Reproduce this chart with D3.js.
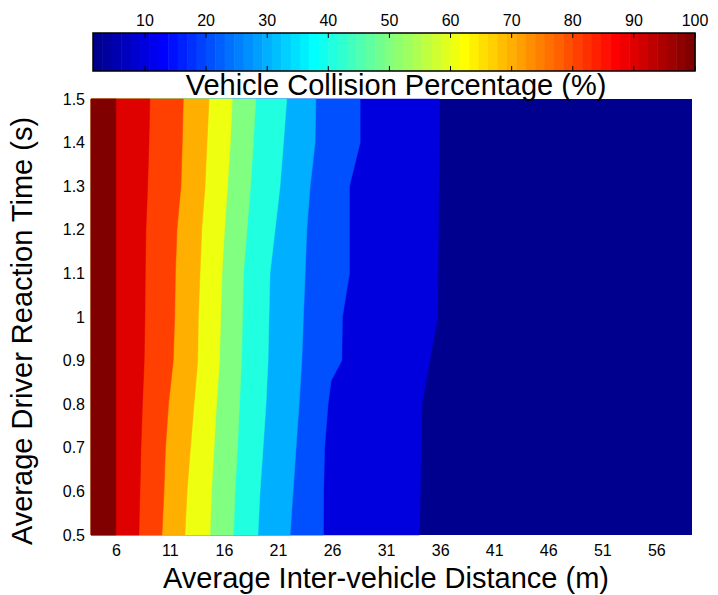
<!DOCTYPE html>
<head>
<meta charset="utf-8">
<style>
body { margin: 0; background: #fff; }
text { font-family: "Liberation Sans", Arial, sans-serif; fill: #000; }
</style>
</head>
<body>
<svg width="718" height="595"></svg>
<script src="https://cdn.jsdelivr.net/npm/d3@7"></script>
<script>

// contour levels (collision %) and colour limits
var levels = [10, 20, 30, 40, 50, 60, 70, 80, 90, 100];
var cmin = 1.5, cmax = 100;

// contour lines: distance (m) where each level is crossed, per reaction time (s)
var rt = [0.5, 0.6, 0.7, 0.8, 0.9, 1.0, 1.1, 1.2, 1.3, 1.4, 1.5];
var d100 = [6, 6, 6, 6, 6, 6, 6, 6, 6, 6, 6];
var d90 = [8.13, 8.23, 8.32, 8.46, 8.62, 8.69, 8.72, 8.78, 8.94, 9.06, 9.15];
var d80 = [10.26, 10.45, 10.59, 10.87, 11.31, 11.44, 11.51, 11.65, 12.02, 12.14, 12.24];
var d70 = [12.39, 12.58, 12.90, 13.23, 13.57, 13.63, 13.78, 13.94, 14.25, 14.43, 14.62];
var d60 = [14.71, 14.85, 15.08, 15.31, 15.59, 15.70, 15.82, 16.05, 16.33, 16.59, 16.77];
var d50 = [16.88, 17.02, 17.25, 17.44, 17.62, 17.72, 17.81, 18.13, 18.46, 18.72, 18.94];
var d40 = [19.15, 19.34, 19.62, 19.89, 20.08, 20.17, 20.26, 20.73, 21.19, 21.51, 21.81];
var d30 = [22.12, 22.39, 22.67, 22.95, 23.20, 23.35, 23.51, 23.66, 23.97, 24.43, 24.50];
var rt20 = [0.5, 0.6, 0.7, 0.8, 0.854, 0.9, 1.0, 1.1, 1.2, 1.3, 1.4, 1.5];
var d20 = [25.20, 25.22, 25.31, 25.63, 25.91, 26.90, 26.96, 27.61, 27.61, 27.61, 28.60, 28.60];
var rt10 = [0.5, 0.8, 1.0, 1.5];
var d10 = [34.09, 34.31, 35.76, 35.94];

var xTicks = [6, 11, 16, 21, 26, 31, 36, 41, 46, 51, 56];
var yTicks = [0.5, 0.6, 0.7, 0.8, 0.9, 1.0, 1.1, 1.2, 1.3, 1.4, 1.5];
var cTicks = [10, 20, 30, 40, 50, 60, 70, 80, 90, 100];

var lines = {
  10: {t: rt10, d: d10}, 20: {t: rt20, d: d20}, 30: {t: rt, d: d30},
  40: {t: rt, d: d40}, 50: {t: rt, d: d50}, 60: {t: rt, d: d60},
  70: {t: rt, d: d70}, 80: {t: rt, d: d80}, 90: {t: rt, d: d90},
  100: {t: rt, d: d100}
};

// matlab jet(64)
function jet(i) {
  function u(k) {
    if (k < 1 || k > 47) return 0;
    if (k <= 16) return k / 16;
    if (k <= 31) return 1;
    return (48 - k) / 16;
  }
  return d3.rgb(255 * u(i - 24), 255 * u(i - 8), 255 * u(i + 8)).toString();
}
var cIdx = d3.scaleLinear().domain([cmin, cmax]).range([0, 64]);
function color(v) {
  var i = Math.floor(cIdx(v) + 1e-9) + 1;
  return jet(Math.max(1, Math.min(64, i)));
}

var svg = d3.select("svg");
var x = d3.scaleLinear().domain([3.7, 59.3]).range([91, 692]);
var y = d3.scaleLinear().domain([0.5, 1.5]).range([535, 99]);

var plot = svg.append("g");
plot.append("rect")
    .attr("x", x(3.7)).attr("y", y(1.5))
    .attr("width", x(59.3) - x(3.7)).attr("height", y(0.5) - y(1.5))
    .attr("fill", color(cmin));

var area = d3.area()
    .y(function(d) { return y(d[0]); })
    .x0(x(3.7))
    .x1(function(d) { return x(d[1]); });

levels.forEach(function(lv) {
  var l = lines[lv];
  var pts = l.t.map(function(t, i) { return [t, l.d[i]]; });
  plot.append("path")
      .attr("d", area(pts))
      .attr("fill", color(lv))
      .attr("stroke", color(lv))
      .attr("stroke-width", 0.5);
});

// axes
var fmt = function(d) { return String(+d.toFixed(1)); };
var xAxis = svg.append("g")
    .attr("transform", "translate(0,535)")
    .call(d3.axisBottom(x).tickValues(xTicks).tickSize(0).tickPadding(10));
var yAxis = svg.append("g")
    .attr("transform", "translate(91,0)")
    .call(d3.axisLeft(y).tickValues(yTicks).tickFormat(fmt).tickSize(0).tickPadding(6));
[xAxis, yAxis].forEach(function(a) {
  a.select(".domain").remove();
  a.selectAll("text").attr("font-size", 16).attr("font-family", null).attr("fill", "#000");
});

svg.append("text")
    .attr("x", 386).attr("y", 588)
    .attr("text-anchor", "middle")
    .attr("font-size", 29)
    .text("Average Inter-vehicle Distance (m)");

svg.append("text")
    .attr("transform", "translate(32,331) rotate(-90)")
    .attr("text-anchor", "middle")
    .attr("font-size", 29)
    .text("Average Driver Reaction Time (s)");

// colorbar
var cb = d3.scaleLinear().domain([cmin, cmax]).range([93, 695]);
var cbTop = 33, cbBot = 71;
var steps = d3.range(64);
var g = svg.append("g");
g.selectAll("rect.c")
  .data(steps)
  .enter().append("rect")
    .attr("x", function(i) { return cb(cmin + i * (cmax - cmin) / 64); })
    .attr("y", cbTop)
    .attr("width", (cb(cmax) - cb(cmin)) / 64 + 0.5)
    .attr("height", cbBot - cbTop)
    .attr("fill", function(i) { return jet(i + 1); });
g.append("rect")
    .attr("x", cb(cmin)).attr("y", cbTop)
    .attr("width", cb(cmax) - cb(cmin)).attr("height", cbBot - cbTop)
    .attr("fill", "none").attr("stroke", "#000").attr("stroke-width", 1.5);
cTicks.forEach(function(v) {
  g.append("line").attr("x1", cb(v)).attr("x2", cb(v))
    .attr("y1", cbTop).attr("y2", cbTop + 5).attr("stroke", "#000");
  g.append("line").attr("x1", cb(v)).attr("x2", cb(v))
    .attr("y1", cbBot).attr("y2", cbBot - 5).attr("stroke", "#000");
  g.append("text").attr("x", cb(v)).attr("y", 26)
    .attr("text-anchor", "middle").attr("font-size", 16)
    .text(v);
});

svg.append("text")
    .attr("x", 396).attr("y", 95)
    .attr("text-anchor", "middle")
    .attr("font-size", 29)
    .text("Vehicle Collision Percentage (%)");

</script>
</body>
